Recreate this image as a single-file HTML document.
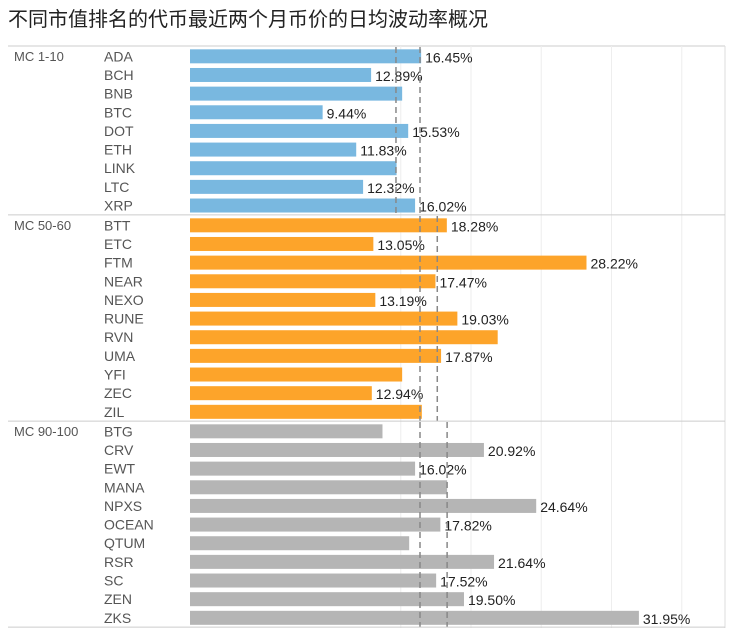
<!DOCTYPE html>
<html><head><meta charset="utf-8"><style>
body{margin:0;background:#fff;width:733px;height:635px;overflow:hidden;font-family:"Liberation Sans","Noto Sans CJK SC",sans-serif}
</style></head><body>
<svg id="chart" width="733" height="635" xmlns="http://www.w3.org/2000/svg" font-family="Liberation Sans, Noto Sans CJK SC, sans-serif"></svg>
<script>
const groups=["MC 1-10","MC 50-60","MC 90-100"];
const coins1=["ADA","BCH","BNB","BTC","DOT","ETH","LINK","LTC","XRP"];
const vals1=[16.45,12.89,15.1,9.44,15.53,11.83,14.7,12.32,16.02];
const show1=[1,1,0,1,1,1,0,1,1];
const coins2=["BTT","ETC","FTM","NEAR","NEXO","RUNE","RVN","UMA","YFI","ZEC","ZIL"];
const vals2=[18.28,13.05,28.22,17.47,13.19,19.03,21.9,17.87,15.1,12.94,16.5];
const show2=[1,1,1,1,1,1,0,1,0,1,0];
const coins3=["BTG","CRV","EWT","MANA","NPXS","OCEAN","QTUM","RSR","SC","ZEN","ZKS"];
const vals3=[13.7,20.92,16.02,18.3,24.64,17.82,15.6,21.64,17.52,19.50,31.95];
const show3=[0,1,1,0,1,1,0,1,1,1,1];
const refLines=[[14.66,16.37],[16.37,17.6],[16.37,18.3]];
const gridTicks=[15,20,25,30,35];
const colors=["#79b8e0","#fda42a","#b5b5b5"];
const NS="http://www.w3.org/2000/svg";
const svg=document.getElementById('chart');
const X0=190,SC=14.05,RH=18.65;
const x=v=>X0+v*SC;
function el(t,a,p){const e=document.createElementNS(NS,t);for(const k in a)e.setAttribute(k,a[k]);(p||svg).appendChild(e);return e;}
const title=el('text',{x:8,y:26,'font-size':20,fill:'#222'});
title.textContent='不同市值排名的代币最近两个月币价的日均波动率概况';


el('line',{x1:8,y1:46,x2:725,y2:46,stroke:'#ccc'});
gridTicks.forEach(t=>{const g=el('line',{x1:x(t),y1:46,x2:x(t),y2:628,stroke:'#eee'});

});
el('line',{x1:725,y1:46,x2:725,y2:628,stroke:'#ddd'});
const data=[[coins1,vals1,show1],[coins2,vals2,show2],[coins3,vals3,show3]];
const starts=[47,216,422];
data.forEach((d,gi)=>{
 const y0=starts[gi];const n=d[0].length;const yEnd=y0+n*RH;
 const gl=el('text',{x:14,y:y0+14,'font-size':13,fill:'#555'});gl.textContent=groups[gi];
 
 
 d[0].forEach((c,i)=>{
  const cy=y0+i*RH+RH/2;
  const t=el('text',{x:104,y:cy+5,'font-size':14,fill:'#555'});t.textContent=c;
  
  
  const w=Math.min(x(d[1][i]),725)-X0;
  const b=el('rect',{x:X0,y:cy-7,width:w,height:14,fill:colors[gi]});
  
  
  if(d[2][i]){const l=el('text',{x:Math.min(x(d[1][i]),650)+4,y:cy+6,'font-size':14,fill:'#222'});l.textContent=d[1][i].toFixed(2)+'%';
  
  }
 });
 refLines[gi].forEach(r=>{const rl=el('line',{x1:x(r),y1:y0,x2:x(r),y2:yEnd,stroke:'#888','stroke-width':1.5,'stroke-dasharray':'6,4'});
 
 });
 el('line',{x1:8,y1:yEnd,x2:725,y2:yEnd,stroke:'#ccc'});
});
</script>
</body></html>
